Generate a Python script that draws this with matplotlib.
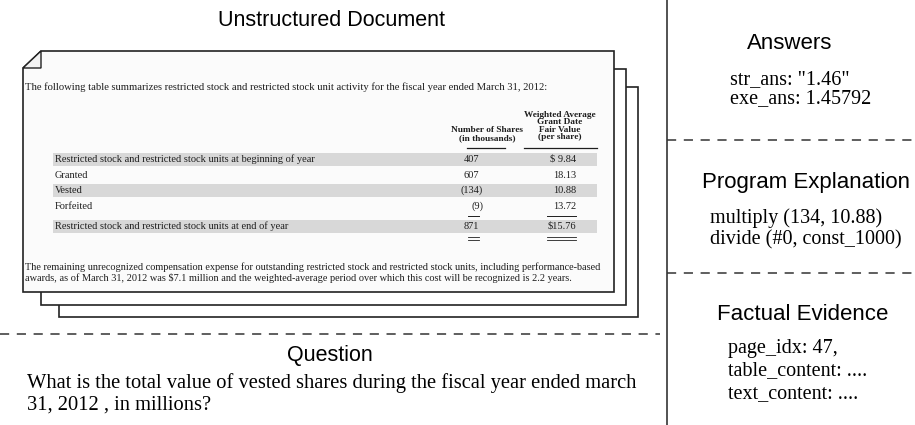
import matplotlib
matplotlib.use("Agg")
import matplotlib.pyplot as plt
from matplotlib.patches import Rectangle, Polygon

# --- content ---
doc_intro = ("The following table summarizes restricted stock and restricted stock unit "
             "activity for the fiscal year ended March 31, 2012:")
row_labels = ["Restricted stock and restricted stock units at beginning of year",
              "Granted", "Vested", "Forfeited",
              "Restricted stock and restricted stock units at end of year"]
shares = ["407", "607", "(134)", "(9)", "871"]
fair_value = ["$ 9.84", "18.13", "10.88", "13.72", "$15.76"]
shaded_rows = [0, 2, 4]
col_shares_head = "Number of Shares\n(in thousands)"
col_value_head = "Weighted Average\nGrant Date\nFair Value\n(per share)"
doc_outro = ["The remaining unrecognized compensation expense for outstanding restricted stock "
             "and restricted stock units, including performance-based",
             "awards, as of March 31, 2012 was $7.1 million and the weighted-average period "
             "over which this cost will be recognized is 2.2 years."]

question = ["What is the total value of vested shares during the fiscal year ended march",
            "31, 2012 , in millions?"]
answers = ['str_ans: "1.46"', "exe_ans: 1.45792"]
program = ["multiply (134, 10.88)", "divide (#0, const_1000)"]
evidence = ["page_idx: 47,", "table_content: ....", "text_content: ...."]

SANS = "Liberation Sans"
SERIF = "Liberation Serif"

fig = plt.figure(figsize=(9.15, 4.25), dpi=100)
ax = fig.add_axes([0, 0, 1, 1])
ax.set_xlim(0, 915)
ax.set_ylim(425, 0)
ax.axis("off")

# headings
ax.text(331, 20, "Unstructured Document", family=SANS, fontsize=15.5, ha="center", va="center")
ax.text(330, 355, "Question", family=SANS, fontsize=15.5, ha="center", va="center")
ax.text(790, 43, "Answers", family=SANS, fontsize=16, ha="center", va="center")
ax.text(806, 182, "Program Explanation", family=SANS, fontsize=16, ha="center", va="center")
ax.text(803, 315, "Factual Evidence", family=SANS, fontsize=16, ha="center", va="center")

# separators
ax.plot([667, 667], [0, 425], color="#444", lw=1.3)
dash = dict(color="#333", lw=1.1, linestyle=(0, (6, 5)))
ax.plot([0, 660], [334, 334], **dash)
ax.plot([667, 915], [140, 140], **dash)
ax.plot([667, 915], [273, 273], **dash)

# right column texts
for i, s in enumerate(answers):
    ax.text(730, 80 + 19 * i, s, family=SERIF, fontsize=14.5, va="center")
for i, s in enumerate(program):
    ax.text(710, 218 + 22 * i, s, family=SERIF, fontsize=14.5, va="center")
for i, s in enumerate(evidence):
    ax.text(728, 348 + 23 * i, s, family=SERIF, fontsize=14.5, va="center")

# question
for i, s in enumerate(question):
    ax.text(27, 383 + 22 * i, s, family=SERIF, fontsize=14.8, va="center")

# stacked pages (back to front)
edge = "#222"
ax.add_patch(Rectangle((59, 87), 579, 230, fc="white", ec=edge, lw=1.2))
ax.add_patch(Rectangle((41, 69), 585, 236, fc="white", ec=edge, lw=1.2))
ax.add_patch(Polygon([(41, 51), (614, 51), (614, 292), (23, 292), (23, 68)],
                     closed=True, fc="#fbfbfb", ec=edge, lw=1.2))
ax.add_patch(Polygon([(23, 68), (41, 51), (41, 68)], closed=True,
                     fc="#f2f2f2", ec=edge, lw=1.0))

# page content
ink = "#1e1e1e"
fs = 7.5
ax.text(25, 87, doc_intro, family=SERIF, fontsize=7.7, color=ink, va="center")

ax.text(487, 134, col_shares_head, family=SERIF, fontsize=6.7, weight="bold",
        color=ink, ha="center", va="center", linespacing=0.92)
ax.text(560, 126, col_value_head, family=SERIF, fontsize=6.7, weight="bold",
        color=ink, ha="center", va="center", linespacing=0.92)
ax.plot([467, 505], [148, 148], color=ink, lw=0.9)
ax.plot([524, 597], [148, 148], color=ink, lw=0.9)

row_y = [159, 175, 190, 206, 226]
for i, (lab, n, v) in enumerate(zip(row_labels, shares, fair_value)):
    y = row_y[i]
    if i in shaded_rows:
        ax.add_patch(Rectangle((53, y - 6.5), 544, 13, fc="#d8d8d8", ec="none"))
    ax.text(55, y, lab, family=SERIF, fontsize=fs, color=ink, va="center")
    nx = 483 if n.startswith("(") else 479
    ax.text(nx, y, n, family=SERIF, fontsize=fs, color=ink, ha="right", va="center")
    ax.text(576, y, v, family=SERIF, fontsize=fs, color=ink, ha="right", va="center")

# totals rules
ax.plot([468, 479], [216, 216], color=ink, lw=0.7)
ax.plot([547, 576], [216, 216], color=ink, lw=0.7)
for yy in (237, 239.5):
    ax.plot([468, 479], [yy, yy], color=ink, lw=0.6)
    ax.plot([547, 576], [yy, yy], color=ink, lw=0.6)

for i, s in enumerate(doc_outro):
    ax.text(25, 267 + 11 * i, s, family=SERIF, fontsize=7.4, color=ink, va="center")

fig.savefig("out.png", dpi=100)
